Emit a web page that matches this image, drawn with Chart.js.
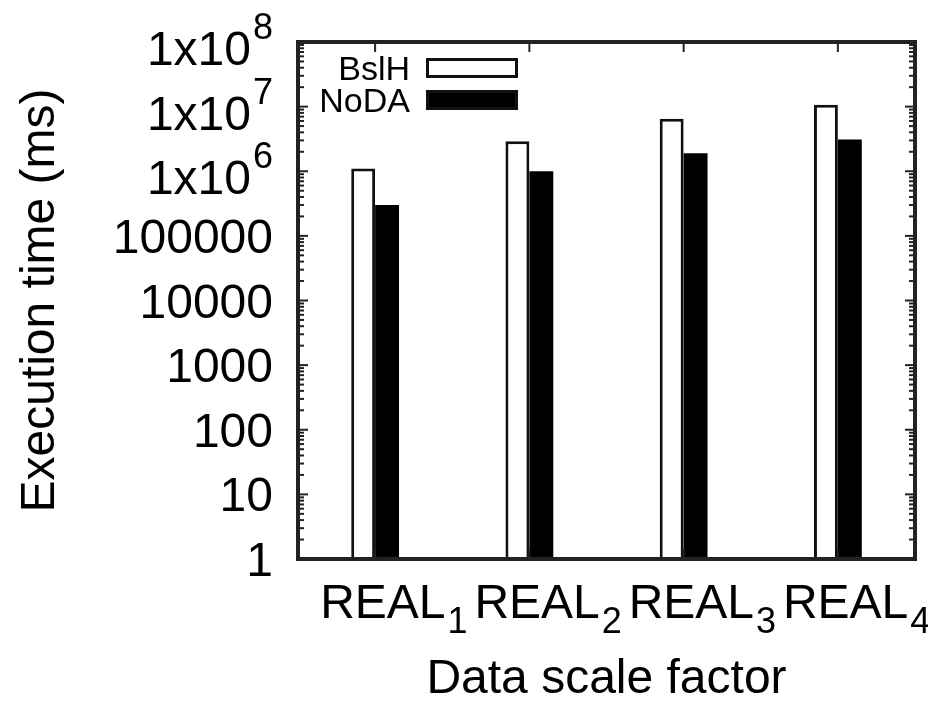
<!DOCTYPE html>
<html lang="en">
<head>
    <meta charset="UTF-8">
    <title>Execution time vs data scale factor</title>
    <script src="https://cdn.jsdelivr.net/npm/chart.js"></script>
    <style>
        html, body { margin: 0; padding: 0; background: #fff; }
    </style>
</head>
<body>
    <canvas id="timeChart" width="928" height="701"></canvas>

    <script>
        // Data (log scale, ms)
        const categories = ['REAL_1', 'REAL_2', 'REAL_3', 'REAL_4'];
        const seriesNames = ['BslH', 'NoDA'];
        const bslhTimes = [1.1e6, 2.9e6, 6.5e6, 1.07e7];
        const nodaTimes = [3.0e5, 1.0e6, 1.9e6, 3.1e6];
        const yTickValues = [1, 10, 100, 1000, 10000, 100000, 1e6, 1e7, 1e8];
        const yTickLabels = ['1', '10', '100', '1000', '10000', '100000', '1x10^6', '1x10^7', '1x10^8'];

        const FONT = "'Liberation Sans', Arial, Helvetica, sans-serif";

        // gnuplot-style "enhanced" text: base plus one _sub or ^sup part
        function drawRich(ctx, text, x, y, align) {
            const m = text.match(/^([^_^]*)([_^]?)(.*)$/);
            const base = m[1], mark = m[2], script = m[3];
            ctx.font = '48px ' + FONT;
            const wBase = ctx.measureText(base).width;
            ctx.font = '36px ' + FONT;
            const wScript = script ? ctx.measureText(script).width + 2 : 0;
            const startX = align === 'right' ? x - wBase - wScript : x;
            ctx.textAlign = 'left';
            ctx.textBaseline = 'alphabetic';
            ctx.font = '48px ' + FONT;
            ctx.fillText(base, startX, y);
            if (script) {
                ctx.font = '36px ' + FONT;
                ctx.fillText(script, startX + wBase + 2, y + (mark === '_' ? 15 : -26));
            }
        }

        const gnuplotFrame = {
            id: 'gnuplotFrame',
            afterDatasetsDraw(chart) {
                const { ctx, chartArea: a, scales: { x, y } } = chart;
                ctx.save();
                ctx.strokeStyle = '#222';
                ctx.fillStyle = '#000';

                // inward tick marks on the log axis (major + minor)
                ctx.lineWidth = 2;
                const line = (x1, y1, x2, y2) => {
                    ctx.beginPath(); ctx.moveTo(x1, y1); ctx.lineTo(x2, y2); ctx.stroke();
                };
                for (let d = 0; d <= 8; d++) {
                    for (let k = 1; k <= 9; k++) {
                        if (d === 8 && k > 1) break;
                        const py = y.getPixelForValue(k * Math.pow(10, d));
                        const len = k === 1 ? 10 : 6;
                        line(a.left, py, a.left + len, py);
                        line(a.right - len, py, a.right, py);
                    }
                }
                // category ticks top and bottom
                categories.forEach((c, i) => {
                    const px = x.getPixelForValue(i);
                    line(px, a.top, px, a.top + 10);
                    line(px, a.bottom, px, a.bottom - 10);
                });

                // border box
                ctx.lineWidth = 4;
                ctx.strokeRect(a.left, a.top, a.right - a.left, a.bottom - a.top);

                // y tick labels
                yTickValues.forEach((v, i) => {
                    const py = y.getPixelForValue(v);
                    const lbl = yTickLabels[i];
                    drawRich(ctx, lbl, a.left - 25, py + (lbl.includes('^') ? 23 : 17), 'right');
                });

                // x tick labels
                categories.forEach((c, i) => {
                    const px = x.getPixelForValue(i);
                    drawRich(ctx, c, px - 55, a.bottom + 59, 'left');
                });

                // key, inside the top-left corner: text then sample box
                const rows = [68, 100];
                chart.data.datasets.forEach((ds, i) => {
                    const cy = rows[i];
                    ctx.font = '34px ' + FONT;
                    ctx.textAlign = 'right';
                    ctx.textBaseline = 'alphabetic';
                    ctx.fillStyle = '#000';
                    ctx.fillText(ds.label, a.left + 112, cy + 12);
                    ctx.fillStyle = ds.backgroundColor;
                    ctx.fillRect(a.left + 128, cy - 10, 92, 20);
                    ctx.lineWidth = 3;
                    ctx.strokeStyle = '#111';
                    ctx.strokeRect(a.left + 129.5, cy - 8.5, 89, 17);
                });
                ctx.restore();
            }
        };

        const ctx = document.getElementById('timeChart').getContext('2d');
        new Chart(ctx, {
            type: 'bar',
            data: {
                labels: categories,
                datasets: [{
                    label: seriesNames[0],
                    data: bslhTimes,
                    backgroundColor: '#ffffff',
                    borderColor: '#111111',
                    borderWidth: 3,
                    borderSkipped: 'bottom'
                }, {
                    label: seriesNames[1],
                    data: nodaTimes,
                    backgroundColor: '#000000',
                    borderColor: '#000000',
                    borderWidth: 0
                }]
            },
            options: {
                responsive: false,
                animation: false,
                layout: { padding: { top: 42, right: 13, left: 0, bottom: 0 } },
                datasets: {
                    bar: { categoryPercentage: 0.31, barPercentage: 1.0 }
                },
                plugins: {
                    legend: { display: false },
                    tooltip: { enabled: false }
                },
                scales: {
                    x: {
                        grid: { display: false },
                        border: { display: false },
                        ticks: { display: false },
                        title: {
                            display: true,
                            text: 'Data scale factor',
                            color: '#000',
                            font: { family: FONT, size: 48, lineHeight: 0.9 },
                            padding: 0
                        },
                        afterFit: (scale) => { scale.height = 142; }
                    },
                    y: {
                        type: 'logarithmic',
                        min: 1,
                        max: 1e8,
                        grid: { display: false },
                        border: { display: false },
                        ticks: { display: false },
                        title: {
                            display: true,
                            text: 'Execution time (ms)',
                            color: '#000',
                            font: { family: FONT, size: 48 },
                            padding: { top: 12, bottom: 0 }
                        },
                        afterFit: (scale) => { scale.width = 298; }
                    }
                }
            },
            plugins: [gnuplotFrame]
        });
    </script>
</body>
</html>
